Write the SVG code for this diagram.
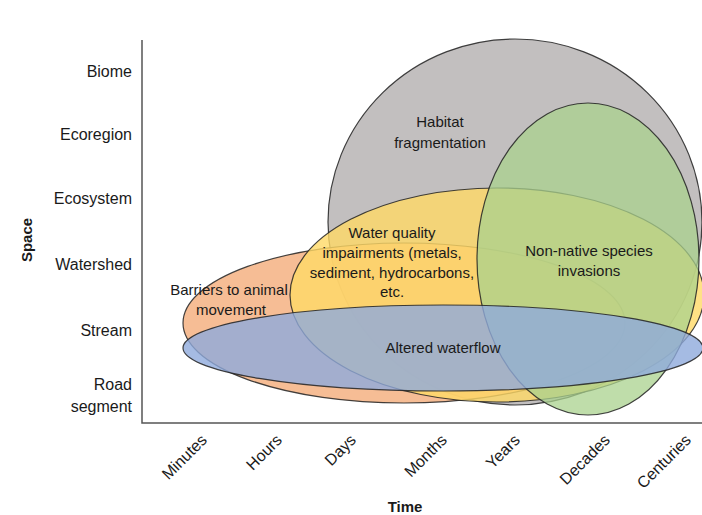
<svg xmlns="http://www.w3.org/2000/svg" width="702" height="515" viewBox="0 0 702 515">
<style>
text{font-family:"Liberation Sans",Arial,sans-serif;fill:#1a1a1a}
.ax{font-size:16px;text-anchor:end}
.lb{font-size:15px;text-anchor:middle}
.tt{font-size:15px;font-weight:bold;text-anchor:middle}
.el{stroke:#222;stroke-width:1.2;stroke-opacity:0.85}
</style>
<rect width="702" height="515" fill="#ffffff"/>
<g id="axes" fill="none" stroke="#555" stroke-width="1.5">
<path d="M142 40 V423 H702"/>
</g>
<g id="habitat">
<ellipse class="el" cx="515" cy="222" rx="187" ry="183" fill="#aeaaaa" fill-opacity="0.75"/>
</g>
<g id="barriers">
<ellipse class="el" cx="404" cy="323" rx="221" ry="80" fill="#f4b183" fill-opacity="0.85"/>
</g>
<g id="water">
<ellipse class="el" cx="497" cy="295" rx="207" ry="107" fill="#ffd966" fill-opacity="0.8"/>
</g>
<g id="nonnative">
<ellipse class="el" cx="588" cy="259" rx="111" ry="156" fill="#a9d18e" fill-opacity="0.75"/>
</g>
<g id="waterflow">
<ellipse class="el" cx="443" cy="348" rx="260" ry="43" fill="#8faadc" fill-opacity="0.8"/>
</g>
<g id="labels">
<text class="lb" x="440" y="127">Habitat</text>
<text class="lb" x="440" y="148">fragmentation</text>
<text class="lb" x="392" y="238">Water quality</text>
<text class="lb" x="392" y="258">impairments (metals,</text>
<text class="lb" x="392" y="278">sediment, hydrocarbons,</text>
<text class="lb" x="392" y="297">etc.</text>
<text class="lb" x="589" y="256">Non-native species</text>
<text class="lb" x="589" y="276">invasions</text>
<text class="lb" x="229" y="295">Barriers to animal</text>
<text class="lb" x="231" y="315">movement</text>
<text class="lb" x="443" y="353">Altered waterflow</text>
</g>
<g id="yaxis">
<text class="ax" x="132" y="77">Biome</text>
<text class="ax" x="132" y="140">Ecoregion</text>
<text class="ax" x="132" y="204">Ecosystem</text>
<text class="ax" x="132" y="270">Watershed</text>
<text class="ax" x="132" y="336">Stream</text>
<text class="ax" x="132" y="390">Road</text>
<text class="ax" x="132" y="412">segment</text>
<text class="tt" transform="translate(32 240) rotate(-90)">Space</text>
</g>
<g id="xaxis">
<text class="ax" font-size="15.5" transform="translate(208 441) rotate(-45)">Minutes</text>
<text class="ax" transform="translate(283 441) rotate(-45)">Hours</text>
<text class="ax" transform="translate(357 441) rotate(-45)">Days</text>
<text class="ax" transform="translate(448 441) rotate(-45)">Months</text>
<text class="ax" transform="translate(521 441) rotate(-45)">Years</text>
<text class="ax" transform="translate(611 441) rotate(-45)">Decades</text>
<text class="ax" transform="translate(692 441) rotate(-45)">Centuries</text>
<text class="tt" x="405" y="512">Time</text>
</g>
</svg>
